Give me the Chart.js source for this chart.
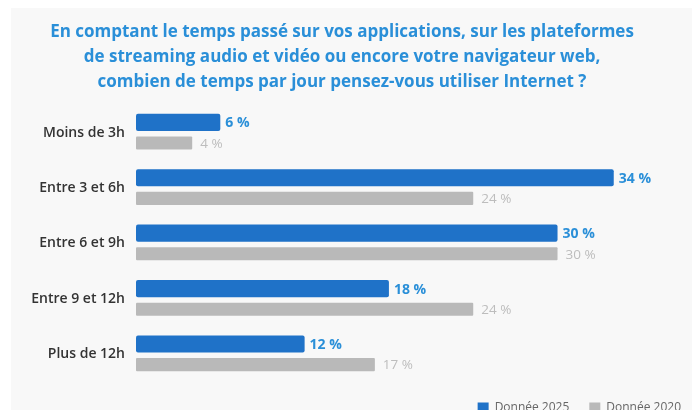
<!DOCTYPE html>
<html>
<head>
<meta charset="utf-8">
<script src="https://cdn.jsdelivr.net/npm/chart.js@4/dist/chart.umd.min.js"></script>
<style>
html,body{margin:0;padding:0;background:#ffffff;}
#wrap{width:696px;height:410px;position:relative;}
</style>
</head>
<body>
<div id="wrap"><canvas id="c" width="696" height="410"></canvas></div>
<script>
const categories = ["Moins de 3h", "Entre 3 et 6h", "Entre 6 et 9h", "Entre 9 et 12h", "Plus de 12h"];
const values2025 = [6, 34, 30, 18, 12];
const values2020 = [4, 24, 30, 24, 17];
const seriesNames = ["Donnée 2025", "Donnée 2020"];
const titleLines = [
  "En comptant le temps passé sur vos applications, sur les plateformes",
  "de streaming audio et vidéo ou encore votre navigateur web,",
  "combien de temps par jour pensez-vous utiliser Internet ?"
];

const BLUE = "#1f72c8";
const GRAY = "#b9b9b9";

const panelPlugin = {
  id: "panel",
  beforeDraw(chart) {
    const ctx = chart.ctx;
    ctx.save();
    ctx.fillStyle = "#ffffff";
    ctx.fillRect(0, 0, chart.width, chart.height);
    ctx.fillStyle = "#f8f8f8";
    ctx.fillRect(11, 8, 681, chart.height - 8);
    ctx.restore();
  }
};

const legendShift = {
  id: "legendShift",
  afterLayout(chart) {
    if (chart.legend) {
      chart.legend.left += 17;
      chart.legend.right += 17;
    }
  }
};

const valueLabels = {
  id: "valueLabels",
  afterDatasetsDraw(chart) {
    const ctx = chart.ctx;
    ctx.save();
    ctx.textBaseline = "middle";
    ctx.textAlign = "left";
    chart.data.datasets.forEach((ds, i) => {
      const meta = chart.getDatasetMeta(i);
      meta.data.forEach((bar, j) => {
        let off;
        if (i === 0) {
          ctx.font = "700 14px 'Open Sans'";
          ctx.fillStyle = "#2a8fd8";
          off = 5;
        } else {
          ctx.font = "400 13.5px 'Open Sans'";
          ctx.fillStyle = "#bdbdbd";
          off = 8;
        }
        ctx.fillText(ds.data[j] + " %", bar.x + off, bar.y + 1);
      });
    });
    ctx.restore();
  }
};

new Chart(document.getElementById("c"), {
  type: "bar",
  data: {
    labels: categories,
    datasets: [
      {
        label: seriesNames[0],
        data: values2025,
        backgroundColor: BLUE,
        borderRadius: 2,
        borderSkipped: false,
        barPercentage: 0.83,
        categoryPercentage: 0.745
      },
      {
        label: seriesNames[1],
        data: values2020,
        backgroundColor: GRAY,
        borderRadius: 1,
        borderSkipped: false,
        barPercentage: 0.634,
        categoryPercentage: 0.745
      }
    ]
  },
  options: {
    indexAxis: "y",
    responsive: false,
    animation: false,
    layout: { padding: { left: 0, right: 12, top: 0, bottom: 0 } },
    scales: {
      x: {
        display: false,
        min: 0,
        max: 39
      },
      y: {
        grid: { display: false, drawTicks: false },
        border: { display: false },
        ticks: {
          padding: 11,
          color: "#333333",
          font: { family: "'Open Sans'", size: 14, weight: "600" }
        },
        afterFit(axis) { axis.width = 136; }
      }
    },
    plugins: {
      title: {
        display: true,
        text: titleLines,
        color: "#2a8fd8",
        font: { family: "'Open Sans'", size: 17, weight: "700", lineHeight: 1.47 },
        padding: { top: 20, bottom: 10 }
      },
      legend: {
        display: true,
        position: "bottom",
        align: "end",
        maxHeight: 28,
        labels: {
          boxWidth: 11,
          boxHeight: 11,
          padding: 20,
          color: "#666666",
          font: { family: "'Open Sans'", size: 12 }
        }
      },
      tooltip: { enabled: false }
    }
  },
  plugins: [panelPlugin, legendShift, valueLabels]
});
</script>
</body>
</html>
